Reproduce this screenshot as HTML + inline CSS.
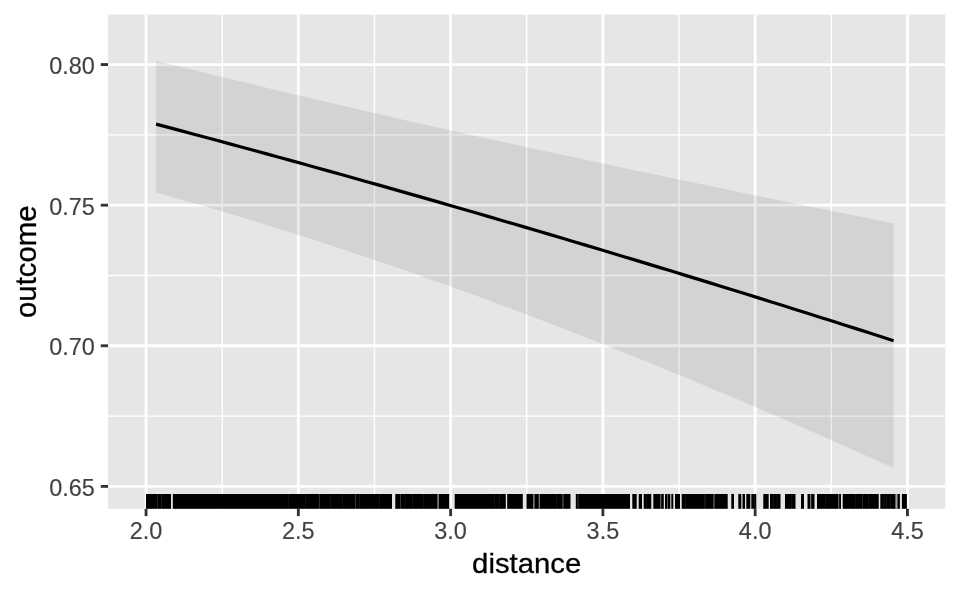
<!DOCTYPE html>
<html lang="en"><head><meta charset="utf-8"><title>outcome by distance</title>
<style>html,body{margin:0;padding:0;background:#fff;}body{width:960px;height:593px;overflow:hidden;}svg{display:block;}text{font-family:"Liberation Sans",Arial,Helvetica,sans-serif;}</style></head><body>
<svg width="960" height="593" viewBox="0 0 960 593">
<rect x="0" y="0" width="960" height="593" fill="#ffffff"/>
<rect x="108.10" y="14.67" width="837.20" height="494.13" fill="#E6E6E6"/>
<g stroke="#ffffff" stroke-width="1.42" fill="none">
<line x1="108.10" x2="945.30" y1="134.86" y2="134.86"/>
<line x1="108.10" x2="945.30" y1="275.47" y2="275.47"/>
<line x1="108.10" x2="945.30" y1="416.09" y2="416.09"/>
<line x1="222.19" x2="222.19" y1="14.67" y2="508.80"/>
<line x1="374.47" x2="374.47" y1="14.67" y2="508.80"/>
<line x1="526.75" x2="526.75" y1="14.67" y2="508.80"/>
<line x1="679.03" x2="679.03" y1="14.67" y2="508.80"/>
<line x1="831.31" x2="831.31" y1="14.67" y2="508.80"/>
</g>
<g stroke="#ffffff" stroke-width="2.85" fill="none">
<line x1="108.10" x2="945.30" y1="64.55" y2="64.55"/>
<line x1="108.10" x2="945.30" y1="205.17" y2="205.17"/>
<line x1="108.10" x2="945.30" y1="345.78" y2="345.78"/>
<line x1="108.10" x2="945.30" y1="486.40" y2="486.40"/>
<line x1="146.05" x2="146.05" y1="14.67" y2="508.80"/>
<line x1="298.33" x2="298.33" y1="14.67" y2="508.80"/>
<line x1="450.61" x2="450.61" y1="14.67" y2="508.80"/>
<line x1="602.89" x2="602.89" y1="14.67" y2="508.80"/>
<line x1="755.17" x2="755.17" y1="14.67" y2="508.80"/>
<line x1="907.45" x2="907.45" y1="14.67" y2="508.80"/>
</g>
<polygon points="156.06,60.71 168.35,63.77 180.64,66.82 192.94,69.86 205.23,72.88 217.52,75.89 229.81,78.89 242.11,81.87 254.40,84.84 266.69,87.80 278.98,90.74 291.28,93.66 303.57,96.58 315.86,99.48 328.15,102.36 340.45,105.23 352.74,108.09 365.03,110.93 377.32,113.76 389.61,116.57 401.91,119.38 414.20,122.17 426.49,124.94 438.78,127.70 451.08,130.45 463.37,133.19 475.66,135.92 487.95,138.63 500.25,141.34 512.54,144.03 524.83,146.71 537.12,149.38 549.41,152.04 561.71,154.69 574.00,157.33 586.29,159.96 598.58,162.58 610.88,165.19 623.17,167.80 635.46,170.40 647.75,172.98 660.05,175.57 672.34,178.14 684.63,180.71 696.92,183.27 709.21,185.82 721.51,188.37 733.80,190.91 746.09,193.45 758.38,195.98 770.68,198.51 782.97,201.03 795.26,203.55 807.55,206.06 819.85,208.57 832.14,211.07 844.43,213.58 856.72,216.07 869.02,218.57 881.31,221.06 893.60,223.55 893.60,468.06 881.31,462.50 869.02,456.96 856.72,451.45 844.43,445.97 832.14,440.51 819.85,435.08 807.55,429.68 795.26,424.30 782.97,418.95 770.68,413.64 758.38,408.35 746.09,403.08 733.80,397.85 721.51,392.65 709.21,387.48 696.92,382.34 684.63,377.24 672.34,372.16 660.05,367.12 647.75,362.10 635.46,357.13 623.17,352.18 610.88,347.27 598.58,342.39 586.29,337.55 574.00,332.74 561.71,327.97 549.41,323.23 537.12,318.53 524.83,313.87 512.54,309.25 500.25,304.66 487.95,300.11 475.66,295.60 463.37,291.12 451.08,286.69 438.78,282.29 426.49,277.94 414.20,273.62 401.91,269.35 389.61,265.11 377.32,260.92 365.03,256.77 352.74,252.66 340.45,248.59 328.15,244.56 315.86,240.57 303.57,236.63 291.28,232.73 278.98,228.87 266.69,225.05 254.40,221.27 242.11,217.54 229.81,213.85 217.52,210.20 205.23,206.59 192.94,203.02 180.64,199.49 168.35,196.01 156.06,192.56" fill="#000000" fill-opacity="0.083" stroke="none"/>
<polyline points="156.06,124.14 168.35,127.40 180.64,130.67 192.94,133.95 205.23,137.25 217.52,140.55 229.81,143.87 242.11,147.20 254.40,150.55 266.69,153.90 278.98,157.27 291.28,160.65 303.57,164.04 315.86,167.45 328.15,170.86 340.45,174.29 352.74,177.73 365.03,181.18 377.32,184.65 389.61,188.12 401.91,191.61 414.20,195.11 426.49,198.63 438.78,202.15 451.08,205.69 463.37,209.23 475.66,212.79 487.95,216.36 500.25,219.95 512.54,223.54 524.83,227.15 537.12,230.77 549.41,234.40 561.71,238.04 574.00,241.69 586.29,245.36 598.58,249.04 610.88,252.73 623.17,256.43 635.46,260.14 647.75,263.86 660.05,267.60 672.34,271.34 684.63,275.10 696.92,278.87 709.21,282.65 721.51,286.44 733.80,290.24 746.09,294.06 758.38,297.88 770.68,301.72 782.97,305.57 795.26,309.42 807.55,313.29 819.85,317.18 832.14,321.07 844.43,324.97 856.72,328.88 869.02,332.81 881.31,336.74 893.60,340.69" fill="none" stroke="#000000" stroke-width="3.2" stroke-linecap="butt" stroke-linejoin="round"/>
<g fill="#000000">
<rect x="146.00" y="494.00" width="25.00" height="14.80"/>
<rect x="172.80" y="494.00" width="219.20" height="14.80"/>
<rect x="395.30" y="494.00" width="42.30" height="14.80"/>
<rect x="438.50" y="494.00" width="10.70" height="14.80"/>
<rect x="454.70" y="494.00" width="51.10" height="14.80"/>
<rect x="507.20" y="494.00" width="15.60" height="14.80"/>
<rect x="526.50" y="494.00" width="44.00" height="14.80"/>
<rect x="575.80" y="494.00" width="54.20" height="14.80"/>
<rect x="632.30" y="494.00" width="4.40" height="14.80"/>
<rect x="638.70" y="494.00" width="3.30" height="14.80"/>
<rect x="643.70" y="494.00" width="7.60" height="14.80"/>
<rect x="653.30" y="494.00" width="10.50" height="14.80"/>
<rect x="665.00" y="494.00" width="5.30" height="14.80"/>
<rect x="671.30" y="494.00" width="2.00" height="14.80"/>
<rect x="675.00" y="494.00" width="5.00" height="14.80"/>
<rect x="681.70" y="494.00" width="46.00" height="14.80"/>
<rect x="731.30" y="494.00" width="2.70" height="14.80"/>
<rect x="738.30" y="494.00" width="3.00" height="14.80"/>
<rect x="742.50" y="494.00" width="2.50" height="14.80"/>
<rect x="746.30" y="494.00" width="4.00" height="14.80"/>
<rect x="751.30" y="494.00" width="5.00" height="14.80"/>
<rect x="763.30" y="494.00" width="5.40" height="14.80"/>
<rect x="770.00" y="494.00" width="10.50" height="14.80"/>
<rect x="785.00" y="494.00" width="10.50" height="14.80"/>
<rect x="801.00" y="494.00" width="3.00" height="14.80"/>
<rect x="807.50" y="494.00" width="7.00" height="14.80"/>
<rect x="817.00" y="494.00" width="24.00" height="14.80"/>
<rect x="842.70" y="494.00" width="36.05" height="14.80"/>
<rect x="880.30" y="494.00" width="19.60" height="14.80"/>
<rect x="901.90" y="494.00" width="5.00" height="14.80"/>
</g>
<g fill="#E6E6E6">
<rect x="157.00" y="494.00" width="0.60" height="14.80" fill-opacity="0.25"/>
<rect x="161.00" y="494.00" width="0.50" height="14.80" fill-opacity="0.25"/>
<rect x="288.60" y="494.00" width="0.40" height="14.80" fill-opacity="0.2"/>
<rect x="305.10" y="494.00" width="0.40" height="14.80" fill-opacity="0.2"/>
<rect x="318.90" y="494.00" width="0.60" height="14.80" fill-opacity="0.4"/>
<rect x="330.30" y="494.00" width="0.40" height="14.80" fill-opacity="0.2"/>
<rect x="342.30" y="494.00" width="0.40" height="14.80" fill-opacity="0.2"/>
<rect x="355.00" y="494.00" width="0.60" height="14.80" fill-opacity="0.4"/>
<rect x="359.00" y="494.00" width="0.40" height="14.80" fill-opacity="0.2"/>
<rect x="379.00" y="494.00" width="0.40" height="14.80" fill-opacity="0.2"/>
<rect x="400.20" y="494.00" width="0.60" height="14.80" fill-opacity="0.4"/>
<rect x="404.80" y="494.00" width="0.40" height="14.80" fill-opacity="0.2"/>
<rect x="412.30" y="494.00" width="0.40" height="14.80" fill-opacity="0.2"/>
<rect x="423.10" y="494.00" width="0.40" height="14.80" fill-opacity="0.2"/>
<rect x="494.50" y="494.00" width="0.40" height="14.80" fill-opacity="0.2"/>
<rect x="499.00" y="494.00" width="0.40" height="14.80" fill-opacity="0.2"/>
<rect x="533.00" y="494.00" width="1.70" height="14.80" fill-opacity="0.5"/>
<rect x="538.70" y="494.00" width="1.30" height="14.80" fill-opacity="0.5"/>
<rect x="556.50" y="494.00" width="0.40" height="14.80" fill-opacity="0.2"/>
<rect x="562.20" y="494.00" width="1.50" height="14.80" fill-opacity="0.3"/>
<rect x="577.60" y="494.00" width="0.80" height="14.80" fill-opacity="0.3"/>
<rect x="646.50" y="494.00" width="0.40" height="14.80" fill-opacity="0.2"/>
<rect x="660.00" y="494.00" width="1.30" height="14.80" fill-opacity="0.4"/>
<rect x="667.00" y="494.00" width="1.00" height="14.80" fill-opacity="0.4"/>
<rect x="685.60" y="494.00" width="0.40" height="14.80" fill-opacity="0.2"/>
<rect x="704.70" y="494.00" width="0.60" height="14.80" fill-opacity="0.3"/>
<rect x="713.30" y="494.00" width="1.40" height="14.80" fill-opacity="0.4"/>
<rect x="754.00" y="494.00" width="0.40" height="14.80" fill-opacity="0.2"/>
<rect x="773.10" y="494.00" width="0.40" height="14.80" fill-opacity="0.2"/>
<rect x="776.80" y="494.00" width="0.40" height="14.80" fill-opacity="0.2"/>
<rect x="791.10" y="494.00" width="0.40" height="14.80" fill-opacity="0.2"/>
<rect x="810.00" y="494.00" width="1.30" height="14.80" fill-opacity="0.5"/>
<rect x="825.10" y="494.00" width="0.40" height="14.80" fill-opacity="0.2"/>
<rect x="838.00" y="494.00" width="1.30" height="14.80" fill-opacity="0.4"/>
<rect x="855.10" y="494.00" width="0.40" height="14.80" fill-opacity="0.2"/>
<rect x="862.20" y="494.00" width="0.60" height="14.80" fill-opacity="0.3"/>
<rect x="868.10" y="494.00" width="0.40" height="14.80" fill-opacity="0.2"/>
<rect x="883.80" y="494.00" width="0.40" height="14.80" fill-opacity="0.2"/>
<rect x="886.40" y="494.00" width="0.40" height="14.80" fill-opacity="0.2"/>
<rect x="890.00" y="494.00" width="0.40" height="14.80" fill-opacity="0.2"/>
<rect x="895.40" y="494.00" width="2.10" height="14.80" fill-opacity="0.7"/>
</g>
<g stroke="#333333" stroke-width="2.85" fill="none">
<line x1="100.77" x2="108.10" y1="64.55" y2="64.55"/>
<line x1="100.77" x2="108.10" y1="205.17" y2="205.17"/>
<line x1="100.77" x2="108.10" y1="345.78" y2="345.78"/>
<line x1="100.77" x2="108.10" y1="486.40" y2="486.40"/>
<line x1="146.05" x2="146.05" y1="508.80" y2="516.13"/>
<line x1="298.33" x2="298.33" y1="508.80" y2="516.13"/>
<line x1="450.61" x2="450.61" y1="508.80" y2="516.13"/>
<line x1="602.89" x2="602.89" y1="508.80" y2="516.13"/>
<line x1="755.17" x2="755.17" y1="508.80" y2="516.13"/>
<line x1="907.45" x2="907.45" y1="508.80" y2="516.13"/>
</g>
<g fill="#424242" stroke="#424242" stroke-width="0.15" font-size="23.47px">
<text transform="translate(94.9,74.15)" text-anchor="end">0.80</text>
<text transform="translate(94.9,214.77)" text-anchor="end">0.75</text>
<text transform="translate(94.9,355.38)" text-anchor="end">0.70</text>
<text transform="translate(94.9,496.00)" text-anchor="end">0.65</text>
<text transform="translate(146.05,538.6)" text-anchor="middle">2.0</text>
<text transform="translate(298.33,538.6)" text-anchor="middle">2.5</text>
<text transform="translate(450.61,538.6)" text-anchor="middle">3.0</text>
<text transform="translate(602.89,538.6)" text-anchor="middle">3.5</text>
<text transform="translate(755.17,538.6)" text-anchor="middle">4.0</text>
<text transform="translate(907.45,538.6)" text-anchor="middle">4.5</text>
</g>
<g fill="#000000" stroke="#000000" stroke-width="0.3" font-size="29.33px">
<text transform="translate(526.7,572.6) scale(1,0.97)" text-anchor="middle">distance</text>
<text transform="translate(35.5,261.7) rotate(-90)" text-anchor="middle">outcome</text>
</g>
</svg></body></html>
